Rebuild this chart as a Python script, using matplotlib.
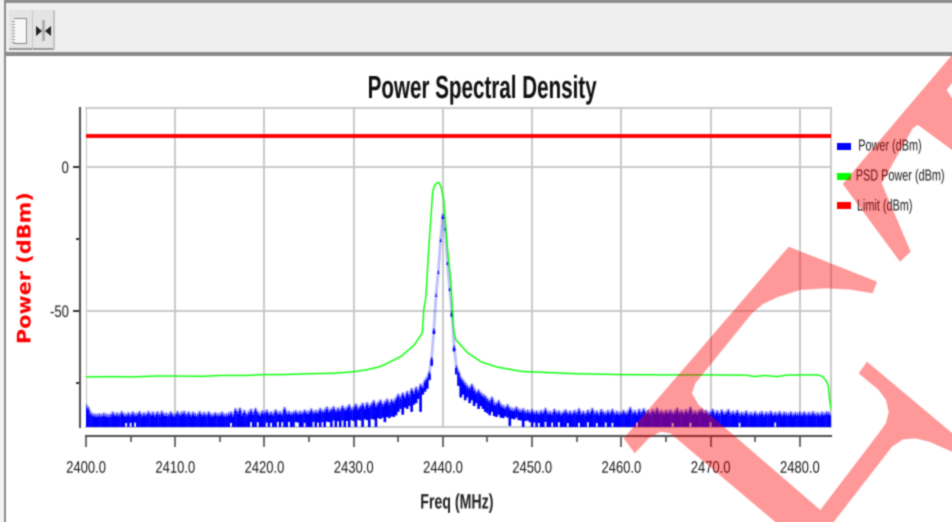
import numpy as np
import matplotlib
matplotlib.use("Agg")
import matplotlib.pyplot as plt
from matplotlib.patches import Polygon
from matplotlib.patheffects import AbstractPathEffect
from matplotlib.transforms import Affine2D

W, H = 952, 522

# sweep of the power trace, 0.25 MHz per point, 5 MHz per row
power_freq = np.arange(2400.0, 2483.75, 0.25)
power_hi = [
    -82.6, -83.5, -85.2, -85.8, -85.9, -86.0, -85.8, -86.0, -85.6, -85.9, -86.1, -85.9, -85.2, -85.8, -85.5, -85.9, -85.0, -85.7, -85.9, -85.4,
    -85.9, -85.1, -85.8, -85.6, -85.0, -85.9, -85.4, -85.8, -85.0, -85.7, -85.2, -85.9, -85.1, -85.9, -84.9, -85.7, -85.6, -85.9, -85.1, -85.8,
    -85.9, -85.0, -85.7, -85.2, -84.9, -85.8, -85.1, -85.9, -85.2, -85.7, -85.9, -85.0, -85.8, -85.3, -85.9, -85.1, -85.8, -85.9, -85.4, -85.8,
    -85.7, -85.2, -85.9, -85.8, -85.5, -85.1, -85.9, -84.0, -85.0, -83.8, -85.6, -84.6, -85.8, -85.0, -84.2, -85.3, -83.9, -85.1, -85.7, -84.8,
    -85.2, -84.5, -85.4, -85.1, -85.6, -84.4, -85.3, -85.0, -85.5, -83.6, -85.2, -84.9, -85.4, -85.1, -84.7, -85.3, -84.9, -85.2, -84.5, -85.0,
    -84.9, -84.1, -85.0, -84.6, -84.8, -83.9, -84.7, -84.3, -83.4, -84.5, -84.0, -83.3, -84.4, -83.7, -84.2, -83.0, -83.9, -83.5, -82.6, -84.0,
    -83.4, -82.4, -83.6, -83.0, -82.1, -83.3, -81.9, -82.9, -82.2, -81.2, -82.6, -81.8, -81.0, -82.3, -81.5, -80.7, -81.9, -80.8, -81.3, -80.2,
    -79.0, -80.0, -78.5, -79.5, -78.0, -79.0, -77.0, -78.0, -76.5, -77.5, -75.5, -76.0, -74.0, -73.0, -71.0, -66.0, -56.0, -44.0, -36.0, -25.0,
    -16.5, -21.0, -33.0, -42.0, -50.0, -62.0, -69.0, -71.0, -73.0, -74.0, -75.0, -76.0, -76.5, -75.5, -77.0, -78.0, -77.5, -78.5, -79.0, -79.5,
    -80.5, -81.0, -80.0, -81.8, -82.0, -81.2, -82.5, -82.9, -83.3, -82.6, -83.6, -83.9, -84.0, -83.4, -84.2, -84.4, -84.0, -84.8, -84.5, -85.0,
    -84.3, -85.1, -84.8, -85.3, -84.6, -85.0, -83.9, -85.2, -84.9, -85.4, -84.2, -85.2, -84.7, -85.5, -85.0, -84.4, -85.3, -84.8, -85.4, -84.6,
    -85.2, -84.0, -85.3, -84.9, -85.5, -84.5, -85.1, -83.9, -85.3, -84.8, -85.5, -84.3, -85.0, -85.4, -84.6, -85.2, -84.2, -85.4, -84.9, -85.3,
    -85.2, -84.6, -85.3, -84.9, -83.6, -85.2, -84.6, -85.4, -84.2, -85.1, -84.0, -85.0, -84.6, -85.3, -84.3, -84.9, -83.8, -85.0, -84.6, -85.2,
    -84.5, -85.0, -84.4, -85.2, -84.8, -83.8, -85.0, -84.5, -85.2, -84.3, -84.9, -83.5, -85.1, -84.7, -85.2, -84.5, -84.2, -85.0, -84.6, -85.3,
    -85.1, -84.2, -85.4, -84.7, -85.6, -84.4, -85.3, -85.0, -84.3, -85.5, -84.9, -85.4, -84.6, -85.7, -85.2, -85.6, -84.8, -85.9, -85.3, -85.7,
    -85.0, -85.8, -85.4, -85.0, -85.8, -85.2, -85.6, -84.9, -85.7, -85.3, -85.6, -85.0, -85.8, -85.2, -85.5, -85.7, -85.1, -85.8, -85.3, -85.6,
    -85.2, -85.7, -85.1, -85.8, -85.3, -85.6, -85.0, -85.7, -85.4, -85.8, -85.2, -85.6, -85.1, -85.2, -85.7,
]
power_lo = (
    [-90.3] * 18 + [-88.9, -90.3, -88.8, -90.3, -88.7] + [-90.3] * 37
    + [-90.3, -90.3, -90.3, -90.3, -90.3, -88.8, -90.3, -90.3, -90.3, -90.3, -90.3, -90.3, -90.3, -90.3, -88.6, -90.3, -90.3, -88.6, -90.3, -90.3]
    + [-90.3, -88.7, -90.3, -88.8, -90.3, -90.3, -88.5, -90.3, -88.6, -90.3, -90.3, -88.5, -90.3, -90.3, -88.6, -88.7, -90.3, -90.3, -88.8, -90.3]
    + [-90.3, -90.3, -88.5, -90.3, -88.7, -90.3, -88.6, -90.3, -88.4, -88.6, -90.3, -88.0, -90.3, -88.3, -90.3, -88.0, -90.3, -88.2, -90.3, -87.9]
    + [-88.2, -90.3, -87.8, -88.0, -90.3, -87.6, -87.9, -90.3, -87.5, -87.7, -90.3, -87.2, -87.5, -87.0, -88.6, -86.8, -87.2, -86.6, -86.8, -86.2]
    + [-85.0, -84.0, -86.0, -83.5, -84.0, -83.0, -85.0, -82.5, -82.0, -80.5, -85.0, -79.0, -78.0, -77.0, -74.0, -69.0, -58.0, -45.0, -37.0, -26.0]
    + [-18.0, -22.0, -34.0, -43.0, -52.0, -64.0, -72.0, -76.0, -80.0, -79.0, -81.0, -80.0, -82.0, -81.0, -83.0, -82.0, -84.0, -83.0, -84.0, -85.0]
    + [-85.5, -86.2, -85.0, -86.5, -86.8, -86.0, -87.0, -87.2, -86.6, -87.0, -89.9, -87.4, -87.6, -87.0, -87.9, -88.0, -90.3, -88.2, -88.0, -88.6]
    + [-90.3, -88.7, -90.3, -88.8, -90.3, -90.3, -88.5, -90.3, -90.3, -88.7, -90.3, -90.3, -88.6, -90.3, -90.3, -90.3, -88.9, -90.3, -90.3, -90.3]
    + [-90.3, -88.8, -90.3, -90.3, -90.3, -88.6, -90.3, -90.3, -90.3, -88.9, -90.3, -90.3, -90.3, -88.7, -90.3, -90.3, -88.8, -90.3, -90.3, -90.3]
    + [-90.3] * 7 + [-88.7] + [-90.3] * 15 + [-88.9] + [-90.3] * 7 + [-88.8] + [-90.3] * 8 + [-88.6] + [-90.3] * 12 + [-88.8] + [-90.3] * 15 + [-88.7] + [-90.3] * 25
)

psd_freq = [2400.0, 2403.0, 2405.0, 2408.0, 2410.0, 2413.0, 2415.0, 2418.0, 2420.0, 2422.0, 2425.0, 2428.0, 2430.0,
            2431.5, 2433.0, 2435.3, 2436.8, 2437.7, 2437.85, 2438.1, 2438.4, 2438.85, 2439.0, 2439.2, 2439.55, 2439.8,
            2440.1, 2440.5, 2440.9, 2441.2, 2441.45, 2442.8, 2444.3, 2446.1, 2448.8, 2452.0, 2455.0, 2460.0, 2465.0,
            2470.0, 2474.0, 2475.0, 2476.0, 2477.5, 2478.5, 2480.0, 2482.0, 2482.55, 2483.0, 2483.2, 2483.35, 2483.5]
psd_power = [-72.9, -72.8, -72.9, -72.6, -72.6, -72.7, -72.4, -72.4, -72.1, -72.1, -71.8, -71.6, -71.1,
             -70.4, -69.3, -65.8, -61.8, -57.6, -49.7, -45.0, -29.0, -9.0, -7.0, -5.8, -5.3, -7.0,
             -11.5, -27.7, -40.0, -56.6, -60.0, -64.6, -67.7, -69.5, -71.0, -71.4, -71.8, -72.1, -72.2,
             -72.2, -72.3, -72.8, -72.4, -72.8, -72.3, -72.2, -72.2, -72.7, -74.5, -76.0, -81.0, -84.0]
limit_freq = [2400.0, 2483.5]
limit_power = [10.8, 10.8]

x_major = [2400, 2410, 2420, 2430, 2440, 2450, 2460, 2470, 2480]
x_minor = [2405, 2415, 2425, 2435, 2445, 2455, 2465, 2475]
x_labels = ["2400.0", "2410.0", "2420.0", "2430.0", "2440.0", "2450.0", "2460.0", "2470.0", "2480.0"]
y_major = [0, -50]
y_labels = ["0", "-50"]
y_minor = [-25, -75]
legend_labels = ["Power (dBm)", "PSD Power (dBm)", "Limit (dBm)"]
legend_colors = ["#0000ff", "#00ff00", "#ff0000"]

SANS = ["Liberation Sans", "DejaVu Sans"]
TEXT = "#1c1c1c"
GRID = "#c6c6c6"


class Squeeze(AbstractPathEffect):
    # the reference text is stretched narrow, matplotlib has no font stretch for that
    def __init__(self, sx, anchor="center"):
        super().__init__()
        self.sx = sx
        self.anchor = anchor

    def draw_path(self, renderer, gc, tpath, affine, rgbFace=None):
        ext = tpath.get_extents()
        cx = {"left": ext.x0, "center": (ext.x0 + ext.x1) / 2, "right": ext.x1}[self.anchor]
        squeeze = Affine2D().translate(-cx, 0).scale(self.sx, 1).translate(cx, 0)
        renderer.draw_path(gc, tpath, squeeze + affine, rgbFace)


def fx(x):
    return x / W


def fy(y):
    return 1 - y / H


def box(fig, x0, y0, x1, y1, color, z=1):
    fig.add_artist(plt.Rectangle((fx(x0), fy(y1)), (x1 - x0) / W, (y1 - y0) / H,
                                 transform=fig.transFigure, fc=color, ec="none", zorder=z))


def poly(fig, pts, color, alpha=1.0, z=1):
    xy = [(fx(x), fy(y)) for x, y in pts]
    fig.add_artist(Polygon(xy, closed=True, transform=fig.transFigure, fc=color, ec="none", alpha=alpha, zorder=z))


fig = plt.figure(figsize=(W / 100, H / 100), dpi=100, facecolor="white")

# window frame and toolbar
box(fig, 0, 0, W, 3, "#8e8e8e")
box(fig, 0, 3, W, 52, "#efefef")
box(fig, 0, 52, W, 56, "#8a8a8a")
box(fig, 0, 0, 4, H, "#f4f4f4")
box(fig, 4, 3, 6, H, "#8e8e8e")
box(fig, 9, 10, 54, 50, "#e4e4e4")
box(fig, 9, 48, 54, 50, "#9a9a9a")
box(fig, 53, 10, 55, 50, "#c4c4c4")
box(fig, 32, 10, 33, 50, "#c8c8c8")
box(fig, 14, 18, 27, 44, "#f6f6f6")
for y0, y1, x0, x1 in [(18, 19, 14, 27), (43, 44, 14, 27), (18, 44, 26, 27)]:
    box(fig, x0, y0, x1, y1, "#8c8c8c")
for y in range(21, 43, 3):
    box(fig, 12, y, 15, y + 1, "#a0a0a0")
box(fig, 42, 20, 45, 41, "#b0b0b0")
poly(fig, [(36, 26), (42, 31), (36, 36)], "#222222")
poly(fig, [(51, 26), (45, 31), (51, 36)], "#222222")

L, R, T, B = 86, 831, 108, 427
ax = fig.add_axes([fx(L), fy(B), (R - L) / W, (B - T) / H], facecolor="white")
ax.set_xlim(2400, 2483.5)
ax.set_ylim(-90.3, 20.5)

# moving a spine resets the ticks, so this comes before the tick labels
ax.spines["left"].set_position(("outward", 4.3))
ax.spines["bottom"].set_position(("outward", 6.3))
for s in ["left", "bottom"]:
    ax.spines[s].set_color("#555555")
    ax.spines[s].set_linewidth(1.5)
for s in ["top", "right"]:
    ax.spines[s].set_color(GRID)
    ax.spines[s].set_linewidth(1.3)

ax.set_xticks(x_major)
ax.set_xticklabels(x_labels, family=SANS, fontsize=12, color=TEXT, path_effects=[Squeeze(0.78)])
ax.set_xticks(x_minor, minor=True)
ax.set_yticks(y_major)
ax.set_yticklabels(y_labels, family=SANS, fontsize=12, color=TEXT, path_effects=[Squeeze(0.78, "right")])
ax.set_yticks(y_minor, minor=True)
ax.grid(True, which="major", color=GRID, lw=1.3)
ax.set_axisbelow(True)

ax.axvline(2400, color=GRID, lw=1.3, zorder=0.5)
ax.axhline(-90.3, color=GRID, lw=1.3, zorder=0.5, clip_on=False)
ax.tick_params(axis="x", which="major", length=8, width=1.1, color="#444444", pad=10)
ax.tick_params(axis="x", which="minor", length=4.3, width=1.1, color="#444444")
ax.tick_params(axis="y", which="major", length=5, width=1.3, color="#222222", pad=3)
ax.tick_params(axis="y", which="minor", length=3, width=1.3, color="#222222")

# solid band with thin pale tips on the spikes
ax.plot(power_freq, power_hi, color="#0000ff", alpha=0.25, lw=2, zorder=2)
tips = ax.vlines(power_freq, power_lo, power_hi, color="#0000ff", lw=0.8, zorder=3)
tips.set_snap(False)
band = ax.vlines(power_freq, power_lo, np.array(power_hi) - 0.8, color="#0000ff", lw=1.9, zorder=3)
band.set_snap(False)
ax.plot(psd_freq, psd_power, color="#00ff00", lw=1.0, zorder=4)
ax.plot(limit_freq, limit_power, color="#ff0000", lw=2.8, zorder=5, solid_capstyle="butt")

ax.set_title("Power Spectral Density", family=SANS, fontweight="bold", fontsize=23, color="#111111",
             x=(482 - L) / (R - L), y=(B - 90) / (B - T), va="center", pad=0, path_effects=[Squeeze(0.645)])
ax.set_xlabel("Freq (MHz)", family=SANS, fontweight="bold", fontsize=15, color="#222222", path_effects=[Squeeze(0.68)])
ax.xaxis.set_label_coords((457 - L) / (R - L), (B - 503) / (B - T))
ax.xaxis.label.set_va("center")
ax.set_ylabel("Power (dBm)", family="DejaVu Sans", fontweight="bold", fontsize=13.5, color="#ff0000",
              path_effects=[Squeeze(1.11)])
ax.yaxis.set_label_coords((25 - L) / (R - L), (B - 268) / (B - T))
ax.yaxis.label.set_va("center")

# legend by hand: text box is placed from its right end so the unsqueezed layout stays in the figure
legend_y = [146, 176, 206]
legend_right = [922, 945, 913]
for y, right, label, color in zip(legend_y, legend_right, legend_labels, legend_colors):
    box(fig, 837, y - 3.5, 851, y + 3.5, color, z=3)
    fig.text(fx(right), fy(y), label, ha="right", va="center", family=SANS, fontsize=11.5, color=TEXT,
             path_effects=[Squeeze(0.68, "right")], zorder=3)

# DRAFT style watermark across the lower right
poly(fig, [(623.7, 438.3), (788.7, 246.7), (877, 281.7), (872.7, 293.3), (850, 289.5), (825.3, 288.3), (800, 290),
           (778.7, 296.7), (763, 304), (752, 313.3), (695.3, 383.3), (692, 393.3), (698.7, 405), (820.3, 510),
           (878.7, 433.3), (886, 423), (888.7, 412), (886, 400), (878.7, 390), (858.7, 373.3), (867, 361.7),
           (952, 433), (952, 451.7), (930, 442), (915.3, 438.3), (903, 439.5), (892, 446.7), (833.7, 522),
           (775.3, 522), (670.3, 433.3), (660.3, 431.7), (648.7, 438.3), (634.7, 453.3)], "#ff0000", alpha=0.4, z=10)
poly(fig, [(952, 55), (842.7, 184), (900, 261.7), (910.7, 251.7), (881.7, 183.3), (913, 128), (918, 125),
           (952, 150), (952, 98), (946.7, 90), (952, 83)], "#ff0000", alpha=0.4, z=10)

fig.savefig("out.png", dpi=100)

# the reference is a soft upscaled screenshot, so soften the saved picture a little
img = plt.imread("out.png")[:, :, :3]
pad = np.pad(img, ((1, 1), (1, 1), (0, 0)), mode="edge")
img = 0.6 * pad[1:-1, 1:-1] + 0.2 * pad[:-2, 1:-1] + 0.2 * pad[2:, 1:-1]
pad = np.pad(img, ((1, 1), (1, 1), (0, 0)), mode="edge")
img = 0.6 * pad[1:-1, 1:-1] + 0.2 * pad[1:-1, :-2] + 0.2 * pad[1:-1, 2:]
plt.imsave("out.png", np.clip(img, 0, 1))
